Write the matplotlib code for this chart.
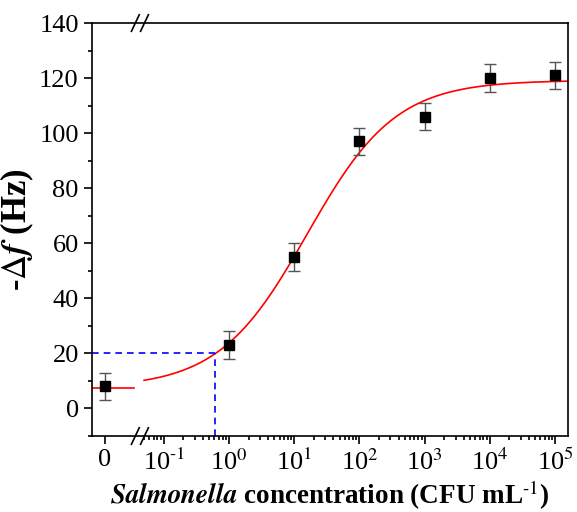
import numpy as np
import matplotlib.pyplot as plt

plt.rcParams['font.family'] = ['Liberation Serif', 'DejaVu Serif']
plt.rcParams['mathtext.fontset'] = 'stix'

# measured points (concentration in CFU/mL, 0 = blank)
conc = [0, 1, 10, 100, 1e3, 1e4, 1e5]
resp = [8, 23, 55, 97, 106, 120, 121]
err = [5, 5, 5, 5, 5, 5, 5]

# logistic fit (log10 concentration)
A1, A2, u0, p = 7.5, 119.2, 1.2, 0.64
lod_y = 20
lod_conc = 0.61

zero_pos = -1.9      # where the blank sits on the log axis
brk = -1.365         # axis break position
xmin, xmax = -2.1, 5.2

def pos(c):
    return zero_pos if c == 0 else np.log10(c)

def fit(u):
    return A2 + (A1 - A2) / (1 + 10 ** ((u - u0) * p))

fig = plt.figure(figsize=(5.77, 5.12), dpi=100)
ax = fig.add_axes([0.1594, 0.1484, 0.825, 0.8066])

xs = [pos(c) for c in conc]
ax.errorbar(xs, resp, yerr=err, fmt='s', color='black', ms=7,
            ecolor='#555555', elinewidth=1, capsize=4, capthick=1, zorder=3)

uu = np.linspace(np.log10(0.05), xmax, 400)
ax.plot(uu, fit(uu), color='red', lw=1.2)
ax.plot([xmin, -1.45], [A1, A1], color='red', lw=1.2)

lu = np.log10(lod_conc)
ax.plot([xmin, lu], [lod_y, lod_y], color='blue', ls=(0, (4, 3)), lw=1.2)
ax.plot([lu, lu], [-10, lod_y], color='blue', ls=(0, (4, 3)), lw=1.2)

ax.set_xlim(xmin, xmax)
ax.set_ylim(-10, 140)

major = [zero_pos] + list(range(-1, 6))
labels = ['0'] + [r'10$^{\text{%d}}$' % k for k in range(-1, 6)]
ax.set_xticks(major)
ax.set_xticklabels(labels)
minor = [np.log10(m * 10.0 ** k) for k in range(-2, 5) for m in range(2, 10)]
minor = [m for m in minor if brk + 0.05 < m < xmax]
ax.set_xticks(minor, minor=True)

ax.set_yticks(np.arange(0, 141, 20))
ax.set_yticks(np.arange(-10, 141, 10), minor=True)

ax.tick_params(which='both', direction='out', top=False, right=False,
               labelsize=19, width=1.2)
ax.tick_params(which='major', length=6)
ax.tick_params(which='minor', length=3)
for s in ax.spines.values():
    s.set_linewidth(1.2)

# break marks
for yb in (0, 1):
    for dx in (-0.07, 0.07):
        ax.plot([brk + dx - 0.06, brk + dx + 0.06], [yb - 0.02, yb + 0.02],
                transform=ax.get_xaxis_transform(), color='black', lw=1.2,
                clip_on=False)

ax.set_ylabel(r'-$\Delta\mathbfit{f}$ (Hz)', fontsize=25, fontweight='bold',
              labelpad=2)
ax.set_xlabel(r'$\mathbfit{Salmonella}$ concentration (CFU mL$^{\text{-1}}$)',
              fontsize=19.5, fontweight='bold', labelpad=2)

fig.savefig('out.png', dpi=100)
